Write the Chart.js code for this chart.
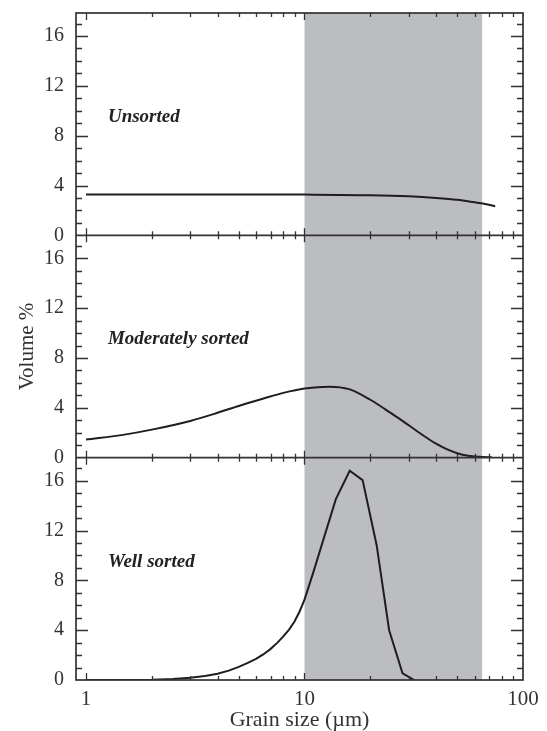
<!DOCTYPE html>
<html>
<head>
<meta charset="utf-8">
<script src="https://cdn.jsdelivr.net/npm/chart.js@4.4.1/dist/chart.umd.min.js"></script>
<style>
  html, body { margin: 0; padding: 0; background: #fff; }
  #wrap { position: relative; width: 547px; height: 731px; }
</style>
</head>
<body>
<div id="wrap"><canvas id="chart" width="547" height="731"></canvas></div>
<script>
// ── data ─────────────────────────────────────────────────
const X_UNSORTED = [1, 5, 10, 20, 30, 40, 50, 60, 68, 74.6];
const Y_UNSORTED = [3.28, 3.28, 3.27, 3.22, 3.13, 3.0, 2.85, 2.65, 2.5, 2.34];

const X_MODERATE = [1, 1.5, 2, 3, 4, 5, 6.5, 8, 10, 13, 16, 20, 25, 30, 35, 40, 45, 50, 56, 63, 72];
const Y_MODERATE = [1.45, 1.85, 2.25, 2.95, 3.6, 4.15, 4.75, 5.2, 5.55, 5.7, 5.5, 4.65, 3.55, 2.6, 1.78, 1.12, 0.66, 0.36, 0.16, 0.07, 0.03];

const X_WELL = [1, 1.5, 2, 2.5, 3, 3.5, 4, 4.5, 5, 5.5, 6, 6.5, 7, 7.5, 8, 8.5, 9, 9.5, 10, 10.5, 11, 13.9, 16.1, 18.45, 21.4, 24.4, 28.1, 31.8];
const Y_WELL = [0, 0, 0.02, 0.08, 0.18, 0.32, 0.5, 0.75, 1.05, 1.37, 1.7, 2.07, 2.5, 2.98, 3.5, 4.05, 4.7, 5.5, 6.45, 7.6, 8.7, 14.5, 16.8, 16.05, 10.8, 4.0, 0.53, 0];

const PANEL_LABELS = ['Unsorted', 'Moderately sorted', 'Well sorted'];
const Y_TICKS = [0, 4, 8, 12, 16];
const X_TICKS = [1, 10, 100];
const SHADE_RANGE = [10, 65];   // µm

const Y_MAX = 17.85;
const INK = '#333';
const SERIF = '"Liberation Serif", "DejaVu Serif", serif';

const toPoints = (xs, ys) => xs.map((x, i) => ({ x, y: ys[i] }));

// ── custom drawing: shade, frame, inward ticks, panel labels ──
const framePlugin = {
  id: 'frame',
  beforeDatasetsDraw(chart) {
    const { ctx, chartArea: a, scales: { x } } = chart;
    const x0 = x.getPixelForValue(SHADE_RANGE[0]);
    const x1 = x.getPixelForValue(SHADE_RANGE[1]);
    ctx.save();
    ctx.fillStyle = '#bcbdc1';
    ctx.fillRect(x0, a.top, x1 - x0, a.bottom - a.top);
    ctx.restore();
  },
  afterDatasetsDraw(chart) {
    const { ctx, chartArea: a, scales } = chart;
    const x = scales.x;
    ctx.save();
    ctx.strokeStyle = '#333';
    ctx.lineWidth = 1.3;
    ctx.beginPath();
    ['y1', 'y2', 'y3'].forEach(id => {
      const s = scales[id];
      // y ticks, both sides, pointing in
      for (let v = 1; v <= 17; v++) {
        const py = Math.round(s.getPixelForValue(v)) + 0.5;
        const len = v % 4 === 0 ? 12 : 6;
        ctx.moveTo(a.left, py); ctx.lineTo(a.left + len, py);
        ctx.moveTo(a.right, py); ctx.lineTo(a.right - len, py);
      }
      // x ticks on top and bottom edge of each panel
      for (let d = 1; d <= 10; d *= 10) {
        for (let m = 1; m <= 9; m++) {
          const v = d * m;
          const px = Math.round(x.getPixelForValue(v)) + 0.5;
          const len = m === 1 ? 7 : 4;
          ctx.moveTo(px, s.top); ctx.lineTo(px, s.top + len);
          ctx.moveTo(px, s.bottom); ctx.lineTo(px, s.bottom - len);
        }
      }
    });
    ctx.stroke();

    // frame and panel boundaries
    ctx.lineWidth = 1.7;
    ctx.strokeRect(a.left, a.top, a.right - a.left, a.bottom - a.top);
    ctx.beginPath();
    ['y1', 'y2'].forEach(id => {
      const yb = scales[id].bottom;
      ctx.moveTo(a.left, yb); ctx.lineTo(a.right, yb);
    });
    ctx.stroke();

    // panel labels
    ctx.fillStyle = '#222';
    ctx.font = 'italic bold 19px ' + SERIF;
    ctx.textAlign = 'left';
    ctx.textBaseline = 'middle';
    const lx = x.getPixelForValue(1.26);
    ['y1', 'y2', 'y3'].forEach((id, i) => {
      ctx.fillText(PANEL_LABELS[i], lx, scales[id].getPixelForValue(9.5));
    });
    ctx.restore();
  }
};

// ── y axis factory (three stacked panels) ──
function panelAxis(weight, withTitle) {
  return {
    type: 'linear',
    position: 'left',
    stack: 'panels',
    stackWeight: 1,
    weight: weight,
    min: 0,
    max: Y_MAX,
    grid: { display: false, drawTicks: false },
    border: { display: false },
    afterBuildTicks: s => { s.ticks = Y_TICKS.map(v => ({ value: v })); },
    afterFit: s => { s.width = 76; s.paddingTop = 0; s.paddingBottom = 0; },
    ticks: {
      padding: 12,
      color: INK,
      font: { family: SERIF, size: 20 },
    },
    title: {
      display: withTitle,
      text: 'Volume %',
      color: INK,
      padding: { top: 15, bottom: 0 },
      font: { family: SERIF, size: 21 },
    },
  };
}

const line = (pts, smooth) => ({
  data: pts,
  borderColor: '#1e1e1e',
  borderWidth: 2,
  pointRadius: 0,
  tension: smooth ? 0.4 : 0,
  cubicInterpolationMode: smooth ? 'monotone' : 'default',
  fill: false,
});

new Chart(document.getElementById('chart'), {
  type: 'line',
  data: {
    datasets: [
      Object.assign(line(toPoints(X_UNSORTED, Y_UNSORTED), true), { yAxisID: 'y1' }),
      Object.assign(line(toPoints(X_MODERATE, Y_MODERATE), true), { yAxisID: 'y2' }),
      Object.assign(line(toPoints(X_WELL, Y_WELL), false), { yAxisID: 'y3' }),
    ],
  },
  options: {
    responsive: false,
    animation: false,
    layout: { padding: { top: 13, right: 24, left: 0, bottom: 0 } },
    plugins: { legend: { display: false }, tooltip: { enabled: false } },
    scales: {
      x: {
        type: 'logarithmic',
        position: 'bottom',
        min: 0.9,
        max: 100,
        grid: { display: false, drawTicks: false },
        border: { display: false },
        afterBuildTicks: s => { s.ticks = X_TICKS.map(v => ({ value: v })); },
        afterFit: s => { s.height = 51; s.paddingLeft = 0; s.paddingRight = 0; },
        ticks: {
          padding: 7,
          color: INK,
          maxRotation: 0,
          font: { family: SERIF, size: 21 },
          callback: v => String(v),
        },
        title: {
          display: true,
          text: 'Grain size (\u00b5m)',
          color: INK,
          padding: { top: 0, bottom: 0 },
          font: { family: SERIF, size: 22, lineHeight: 1 },
        },
      },
      y1: panelAxis(3, false),
      y2: panelAxis(2, true),
      y3: panelAxis(1, false),
    },
  },
  plugins: [framePlugin],
});
</script>
</body>
</html>
